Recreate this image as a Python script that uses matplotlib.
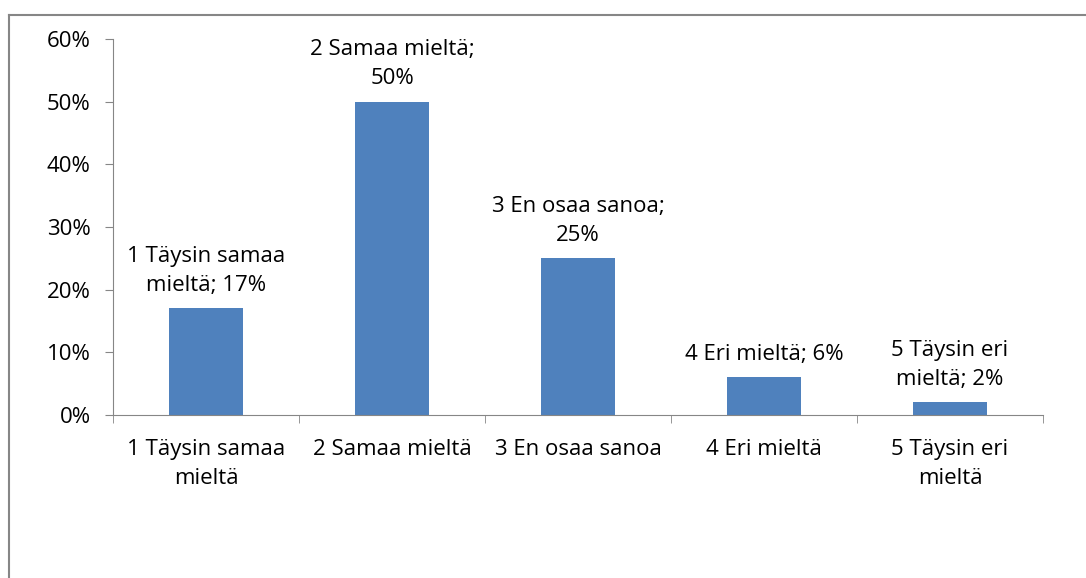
import matplotlib
matplotlib.use('Agg')
import matplotlib.pyplot as plt
from matplotlib.lines import Line2D
from matplotlib.ticker import MultipleLocator, PercentFormatter

categories = ['1 Täysin samaa\nmieltä', '2 Samaa mieltä', '3 En osaa sanoa',
              '4 Eri mieltä', '5 Täysin eri\nmieltä']
values = [17, 50, 25, 6, 2]
bar_labels = ['1 Täysin samaa\nmieltä; 17%', '2 Samaa mieltä;\n50%', '3 En osaa sanoa;\n25%',
              '4 Eri mieltä; 6%', '5 Täysin eri\nmieltä; 2%']

plt.rcParams['font.family'] = ['Open Sans', 'DejaVu Sans']
axis_col = '#868686'
fs = 16

fig = plt.figure(figsize=(10.86, 5.78), dpi=100)
ax = fig.add_axes([113 / 1086, 1 - 415 / 578, 930 / 1086, 376 / 578])

x = range(len(values))
ax.bar(x, values, width=0.4, color='#4F81BD')
for i, (v, lab) in enumerate(zip(values, bar_labels)):
    ax.annotate(lab, (i, v), xytext=(0, 9), textcoords='offset points',
                ha='center', va='bottom', fontsize=fs, linespacing=1.5)

ax.set_xlim(-0.5, len(values) - 0.5)
ax.set_ylim(0, 60)
ax.yaxis.set_major_locator(MultipleLocator(10))
ax.yaxis.set_major_formatter(PercentFormatter(decimals=0))
ax.set_xticks(list(x))
ax.set_xticklabels(categories, fontsize=fs, linespacing=1.5)
ax.set_xticks([i - 0.5 for i in range(len(values) + 1)], minor=True)
ax.tick_params(axis='x', which='major', length=0, pad=17)
ax.tick_params(axis='x', which='minor', length=6, color=axis_col)
ax.tick_params(axis='y', length=6, color=axis_col, labelsize=fs, pad=10)

for s in ['top', 'right']:
    ax.spines[s].set_visible(False)
for s in ['left', 'bottom']:
    ax.spines[s].set_color(axis_col)

# chart area border (only top and left edges are visible)
fig.add_artist(Line2D([9 / 1086, 1], [1 - 15 / 578] * 2, color=axis_col, lw=1.5))
fig.add_artist(Line2D([9 / 1086] * 2, [0, 1 - 15 / 578], color=axis_col, lw=1.5))

fig.savefig('out.png', dpi=100)
